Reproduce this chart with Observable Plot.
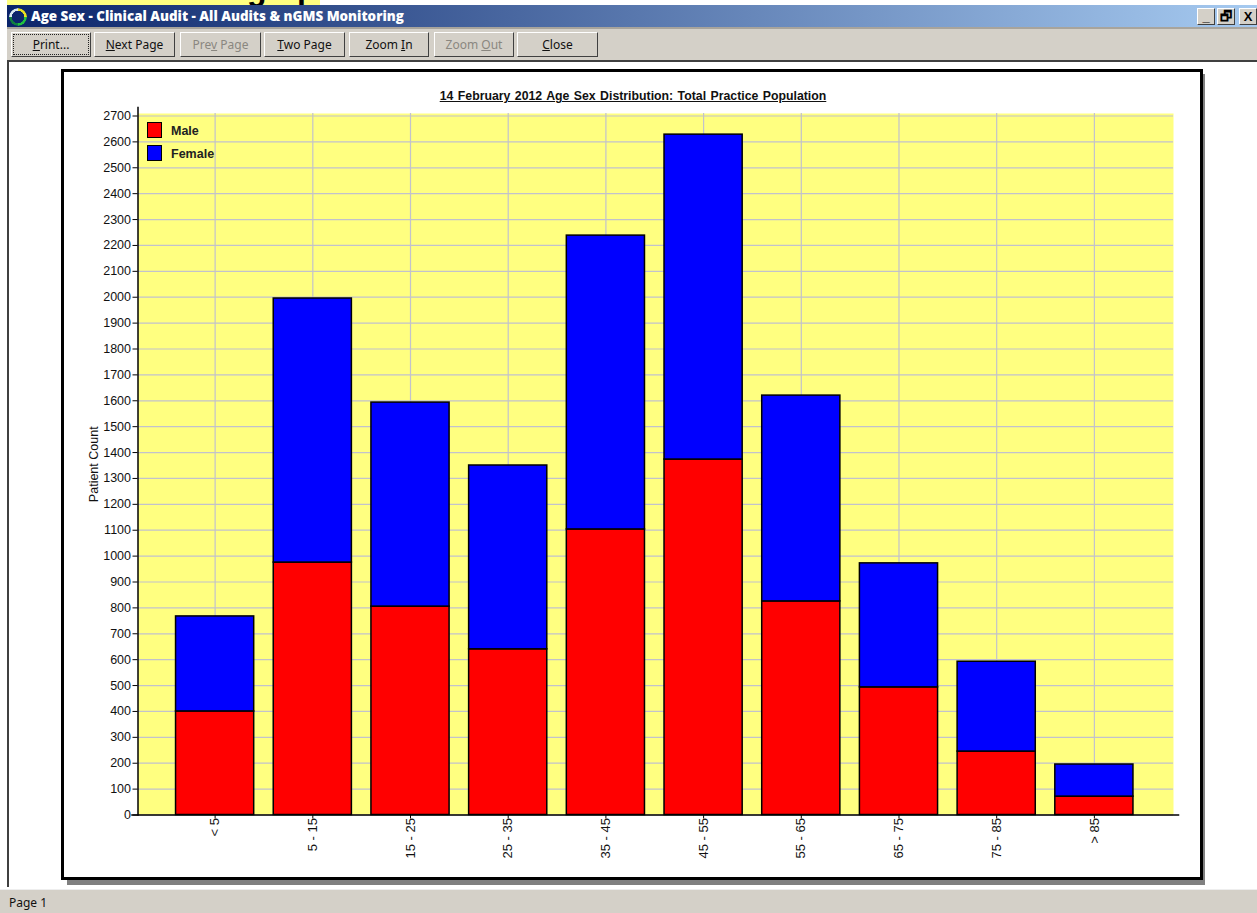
<!DOCTYPE html>
<html><head><meta charset="utf-8">
<script src="https://cdn.jsdelivr.net/npm/d3@7"></script>
<script src="https://cdn.jsdelivr.net/npm/@observablehq/plot@0.6"></script>
<style>
html,body{margin:0;padding:0;width:1257px;height:913px;overflow:hidden;background:#fff;font-family:"Liberation Sans",Arial,sans-serif}
.abs{position:absolute}
#scrap{left:7px;top:0;width:313px;height:5px;background:#ffff80;overflow:hidden}
#scrap span{position:absolute;font:bold 32px "Liberation Sans";color:#000;line-height:32px}
#bar{left:7px;top:5px;width:1250px;height:22px;background:linear-gradient(90deg,#0a246a,#a6caf0);color:#fff;font:bold 13.4px "Open Sans",sans-serif;line-height:22px}
#bar b{position:absolute;left:24px;top:0;white-space:nowrap}
#ring{left:9px;top:8px;width:18px;height:18px;border-radius:50%;background:conic-gradient(#e8e020 0 25%,#20c040 25% 50%,#108040 50% 75%,#d8e8f0 75%);-webkit-mask:radial-gradient(circle,transparent 6px,#000 6.5px)}
#tool{left:7px;top:27px;width:1250px;height:33px;background:#d4d0c8;border-top:2px solid #a8a49c;box-sizing:border-box}
.btn{position:absolute;top:32px;height:25px;box-sizing:border-box;background:#d4d0c8;border:1px solid;border-color:#fff #404040 #404040 #fff;text-align:center;font:12px/23px "Noto Sans",sans-serif;color:#111}
.btn.off{color:#8a8780}
.win{position:absolute;top:8px;width:18px;height:17px;box-sizing:border-box;background:#d4d0c8;border:1px solid;border-color:#fff #404040 #404040 #fff;text-align:center;font:bold 13px/15px "Liberation Sans";color:#000}
#rule{left:7px;top:60px;width:1250px;height:2px;background:#404040}
#left{left:7px;top:62px;width:2px;height:825px;background:#404040}
#shadow{left:67px;top:74px;width:1138px;height:811px;background:#808080}
#box{left:61px;top:69px;width:1142px;height:811px;box-sizing:border-box;border:3px solid #000;background:#fff}
#status{left:0;top:889px;width:1257px;height:24px;background:#d4d0c8;border-top:1px solid #eee;box-sizing:border-box;font:12px/25px "Noto Sans",sans-serif;color:#111;padding-left:9px}
#chart{left:0;top:0;width:1257px;height:913px}
#chart text{-webkit-text-stroke:.25px #222}
#title{left:340px;width:586px;top:89px;text-align:center;font:bold 12.3px "Liberation Sans";text-decoration:underline;color:#111;word-spacing:1px}
.lg{position:absolute;left:147px;width:15px;height:16px;box-sizing:border-box;border:1px solid #000}
.lt{position:absolute;left:171px;font:bold 12.5px "Liberation Sans";color:#222}
</style></head><body>
<div class="abs" id="scrap"><span style="left:240px;top:-27px">g</span><span style="left:290px;top:-27px">p</span></div>
<div class="abs" id="bar"><b>Age Sex - Clinical Audit - All Audits &amp; nGMS Monitoring</b></div>
<div class="abs" id="ring"></div>
<div class="abs" id="tool"></div>
<div class="btn" style="left:11px;width:80px"><span style="outline:1px dotted #222;padding:1px 19px"><u>P</u>rint...</span></div>
<div class="btn" style="left:94px;width:81px"><u>N</u>ext Page</div>
<div class="btn off" style="left:180px;width:81px">Pre<u>v</u> Page</div>
<div class="btn" style="left:264px;width:81px"><u>T</u>wo Page</div>
<div class="btn" style="left:349px;width:80px">Zoom <u>I</u>n</div>
<div class="btn off" style="left:434px;width:80px">Zoom <u>O</u>ut</div>
<div class="btn" style="left:517px;width:81px"><u>C</u>lose</div>
<div class="win" style="left:1197px">_</div><div class="win" style="left:1217px">&#x1F5D7;&#xFE0E;</div><div class="win" style="left:1239px">X</div>
<div class="abs" id="rule"></div><div class="abs" id="left"></div>
<div class="abs" id="shadow"></div><div class="abs" id="box"></div>
<div class="abs" id="status">Page 1</div>
<div class="abs" id="chart"></div>
<div class="abs" id="title">14 February 2012 Age Sex Distribution: Total Practice Population</div>
<div class="lg" style="top:122px;background:#f00"></div><div class="lt" style="top:124px">Male</div>
<div class="lg" style="top:145px;background:#00f"></div><div class="lt" style="top:147px">Female</div>
<script>
const ageGroups = ["< 5","5 - 15","15 - 25","25 - 35","35 - 45","45 - 55","55 - 65","65 - 75","75 - 85","> 85"];
const maleCounts = [400,975,805,640,1103,1373,825,493,245,71];
const femaleCounts = [367,1020,788,710,1135,1255,795,479,347,124];
const seriesNames = ["Male","Female"];
const seriesColors = ["#ff0000","#0000ff"];
const yTicks = d3.range(0,2701,100);

const rows = [];
ageGroups.forEach((age,i)=>{
  rows.push({age,sex:"Male",count:maleCounts[i]});
  rows.push({age,sex:"Female",count:femaleCounts[i]});
});
const gridColor = "#c2c2cc";
const chart = Plot.plot({
  width:1257,height:913,
  marginLeft:137.5,marginRight:84,marginTop:113,marginBottom:98.5,
  style:{background:"transparent",fontFamily:"'Liberation Sans',Arial,sans-serif",fontSize:"12.5px",color:"#111",display:"block"},
  x:{domain:ageGroups,range:[156,1152.5],padding:0.2,round:false,label:null},
  y:{domain:[0,2700],range:[814.5,115.5],label:null},
  color:{domain:seriesNames,range:seriesColors},
  marks:[
    Plot.frame({fill:"#ffff80",stroke:null}),
    Plot.gridY(yTicks,{stroke:gridColor,strokeOpacity:1,strokeWidth:1.2}),
    Plot.gridX(ageGroups,{stroke:gridColor,strokeOpacity:1,strokeWidth:1.2}),
    Plot.barY(rows,{x:"age",y:"count",fill:"sex",stroke:"#000",strokeWidth:1.5,order:seriesNames}),
    Plot.axisY({ticks:yTicks,tickFormat:"d",tickSize:5,tickPadding:2,stroke:"#000",fill:"#111",label:"Patient Count",labelAnchor:"center",labelArrow:"none",labelOffset:49,fontSize:12.5}),
    Plot.axisX({tickRotate:-90,tickSize:4,tickPadding:-1,stroke:"#000",fill:"#111",label:null,fontSize:13,wordSpacing:"1px"}),
    Plot.frame({anchor:"left",stroke:"#000",strokeWidth:1.5,insetTop:-6}),
    Plot.frame({anchor:"bottom",stroke:"#000",strokeWidth:1.5,insetRight:-5,insetLeft:-6})
  ]
});
document.getElementById("chart").appendChild(chart);
</script>
</body></html>
